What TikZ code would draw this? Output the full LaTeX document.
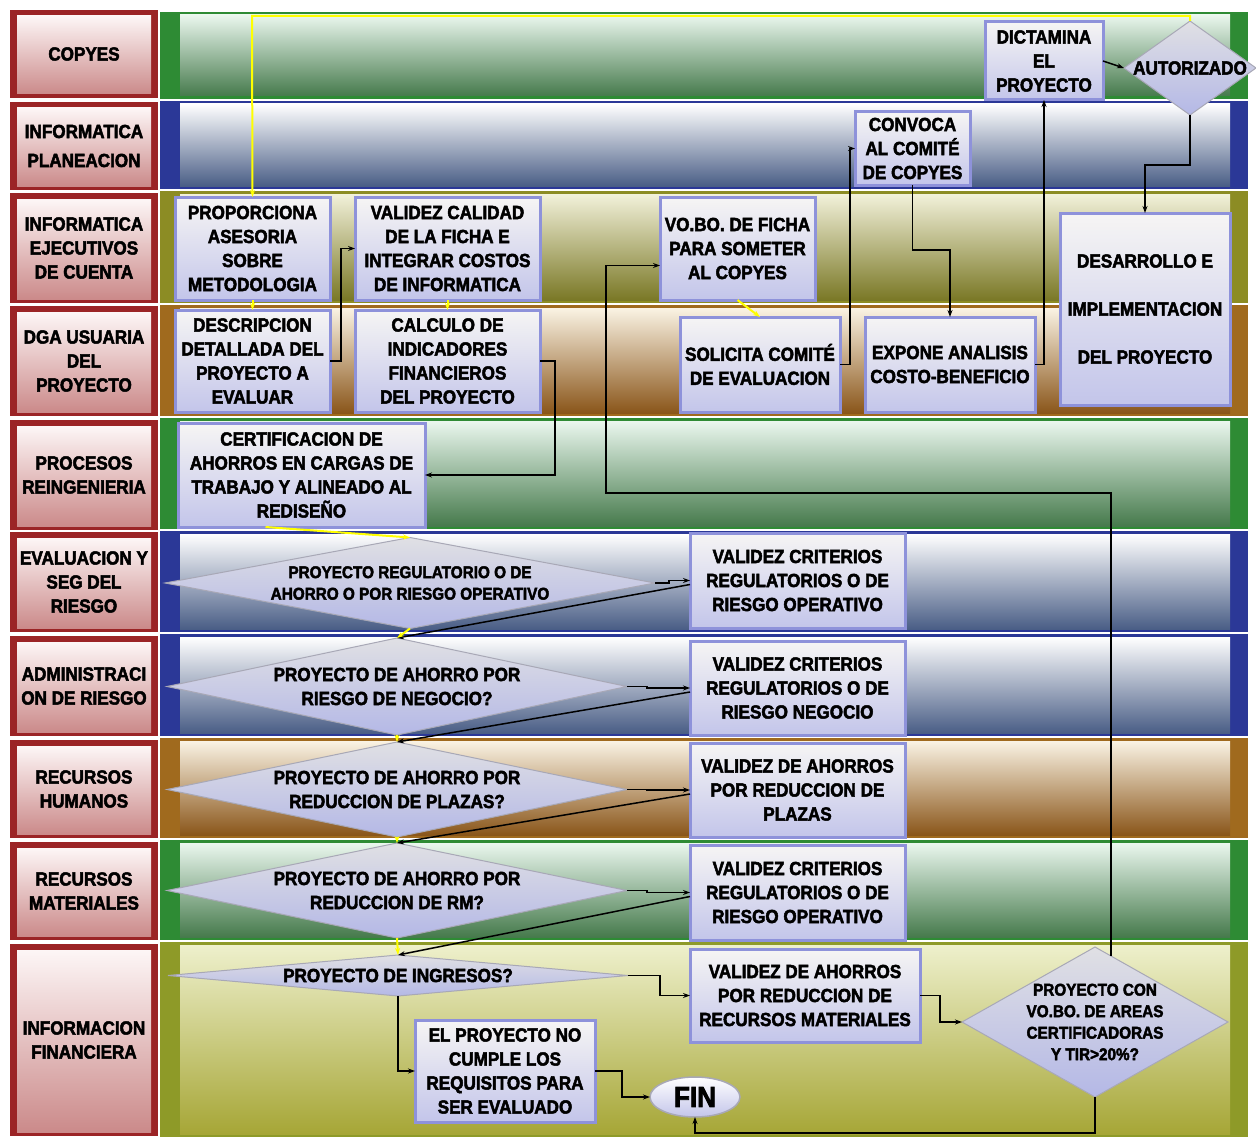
\documentclass[tikz,border=0pt]{standalone}
\usepackage{fontspec}
\setmainfont{Liberation Sans Bold}[FakeStretch=0.9, FakeBold=2.5]
\usetikzlibrary{shapes.geometric,arrows.meta,calc}

% lane palettes: rim, and top / middle / bottom of the body gradient
\definecolor{g-out}{HTML}{2E8B34}
\definecolor{g-top}{HTML}{EAF7EE}
\definecolor{g-mid}{HTML}{CFE0D1}
\definecolor{g-bot}{HTML}{467A4C}
\definecolor{b-out}{HTML}{2B3897}
\definecolor{b-top}{HTML}{FFFFFF}
\definecolor{b-mid}{HTML}{DEE1E8}
\definecolor{b-bot}{HTML}{4A5E86}
\definecolor{o-out}{HTML}{8C8C24}
\definecolor{o-top}{HTML}{F2F1DA}
\definecolor{o-mid}{HTML}{D2D0A6}
\definecolor{o-bot}{HTML}{7A7826}
\definecolor{r-out}{HTML}{A06A1E}
\definecolor{r-top}{HTML}{FAF3E4}
\definecolor{r-mid}{HTML}{E0CDAE}
\definecolor{r-bot}{HTML}{8A561A}
\definecolor{f-out}{HTML}{8E9A28}
\definecolor{f-top}{HTML}{EEF0CC}
\definecolor{f-mid}{HTML}{D0D290}
\definecolor{f-bot}{HTML}{A6A636}
% lane heading cells
\definecolor{lab-out}{HTML}{9B2426}
\definecolor{lab-top}{HTML}{FDF6F6}
\definecolor{lab-bot}{HTML}{CB8A8A}
% activity boxes and decisions
\definecolor{box-rim}{HTML}{8E92DA}
\definecolor{box-top}{HTML}{F6F5F4}
\definecolor{box-mid}{HTML}{ECEBEC}
\definecolor{box-bot}{HTML}{C3C5EA}
\definecolor{dia-rim}{HTML}{A8A8B6}
\definecolor{dia-top}{HTML}{E0E0E4}
\definecolor{dia-mid}{HTML}{F6F6F7}
\definecolor{dia-bot}{HTML}{B4B8E6}
\definecolor{flowyellow}{HTML}{FFFF00}

\begin{document}
\begin{tikzpicture}[x=1pt,y=-1pt,
  txt/.style={font=\fontsize{19}{24}\selectfont, text=black, align=center},
  smalltxt/.style={font=\fontsize{17}{21.5}\selectfont, text=black, align=center},
  lanelabel/.style={txt},
  proc/.style={txt, rectangle, draw=box-rim, line width=3pt, top color=box-top,
    middle color=box-mid, bottom color=box-bot, inner sep=0pt, outer sep=0pt},
  dec/.style={diamond, draw=dia-rim, line width=1pt, top color=dia-top,
    middle color=dia-mid, bottom color=dia-bot, inner sep=0pt, outer sep=0pt},
  term/.style={ellipse, draw=dia-rim, line width=1.5pt, top color=white,
    bottom color=box-bot, inner sep=0pt, outer sep=0pt},
  blk/.style={draw=black, line width=1.5pt, -{Stealth[length=7pt,width=5pt]}},
  yel/.style={draw=flowyellow, line width=2pt, -{Stealth[length=7pt,width=5pt]}},
]
\useasboundingbox (0,0) rectangle (1256,1137);
\fill[white] (0,0) rectangle (1256,1137);

% ---- lane bodies ----
\foreach \ya/\yb/\c in {12/99/g, 101/189/b, 191/303/o, 305/416/r, 418/529/g,
                        531/632/b, 634/736/b, 738/838/r, 840/940/g, 942/1137/f}{
  \fill[\c-out] (160,\ya) rectangle (1248,\yb);
  \shade[top color=\c-top, middle color=\c-mid, bottom color=\c-bot]
    (180,\ya+3) rectangle (1230,\yb-3);
}

% ---- lane headings ----
\foreach \ya/\yb/\txt in {10/98/{COPYES}, 102/190/{INFORMATICA\\[5pt]PLANEACION},
    193/303/{INFORMATICA\\EJECUTIVOS\\DE CUENTA}, 306/416/{DGA USUARIA\\DEL\\PROYECTO},
    420/530/{PROCESOS\\REINGENIERIA}, 532/632/{EVALUACION Y\\SEG DEL\\RIESGO},
    636/736/{ADMINISTRACI\\ON DE RIESGO}, 740/838/{RECURSOS\\HUMANOS},
    842/940/{RECURSOS\\MATERIALES}, 944/1136/{INFORMACION\\FINANCIERA}}{
  \fill[lab-out] (10,\ya) rectangle (158,\yb);
  \shade[top color=lab-top, bottom color=lab-bot] (17,\ya+6) rectangle (151,\yb-4);
  \node[lanelabel] (lab-\ya) at (84,{(\ya+\yb)/2}) {\txt};
}

% ---- activities ----
\node[proc, minimum width=155pt, minimum height=103pt] (prop) at (252.5,248.5)
  {PROPORCIONA\\ASESORIA\\SOBRE\\METODOLOGIA};
\node[proc, minimum width=185pt, minimum height=103pt] (valc) at (447.5,248.5)
  {VALIDEZ CALIDAD\\DE LA FICHA E\\INTEGRAR COSTOS\\DE INFORMATICA};
\node[proc, minimum width=155pt, minimum height=103pt] (vobo) at (737.5,248.5)
  {VO.BO. DE FICHA\\PARA SOMETER\\AL COPYES};
\node[proc, minimum width=155pt, minimum height=102pt] (desc) at (252.5,361)
  {DESCRIPCION\\DETALLADA DEL\\PROYECTO A\\EVALUAR};
\node[proc, minimum width=185pt, minimum height=102pt] (calc) at (447.5,361)
  {CALCULO DE\\INDICADORES\\FINANCIEROS\\DEL PROYECTO};
\node[proc, minimum width=160pt, minimum height=95pt] (sol) at (760,364.5)
  {SOLICITA COMITÉ\\DE EVALUACION};
\node[proc, minimum width=170pt, minimum height=95pt] (expo) at (950,364.5)
  {EXPONE ANALISIS\\COSTO-BENEFICIO};
\node[proc, minimum width=170pt, minimum height=192pt] (desa) at (1145,309)
  {DESARROLLO E\\[24pt]IMPLEMENTACION\\[24pt]DEL PROYECTO};
\node[proc, minimum width=115pt, minimum height=73pt] (conv) at (912.5,148.5)
  {CONVOCA\\AL COMITÉ\\DE COPYES};
\node[proc, minimum width=118pt, minimum height=78pt] (dict) at (1044,61)
  {DICTAMINA\\EL\\PROYECTO};
\node[dec, minimum width=132pt, minimum height=94pt] (aut) at (1190,68) {};
\node[txt] (autt) at (aut) {AUTORIZADO};
\node[proc, minimum width=247pt, minimum height=104pt] (cert) at (301.5,475)
  {CERTIFICACION DE\\AHORROS EN CARGAS DE\\TRABAJO Y ALINEADO AL\\REDISEÑO};

% ---- decision cascade ----
\node[dec, minimum width=490pt, minimum height=91pt] (d1) at (410,583) {};
\node[smalltxt] (d1t) at (d1) {PROYECTO REGULATORIO O DE\\AHORRO O POR RIESGO OPERATIVO};
\node[proc, minimum width=215pt, minimum height=95pt] (vc1) at (797.5,580.5)
  {VALIDEZ CRITERIOS\\REGULATORIOS O DE\\RIESGO OPERATIVO};

\node[dec, minimum width=460pt, minimum height=97pt] (d2) at (397,686.5) {};
\node[txt] (d2t) at (d2) {PROYECTO DE AHORRO POR\\RIESGO DE NEGOCIO?};
\node[proc, minimum width=215pt, minimum height=94pt] (vc2) at (797.5,688)
  {VALIDEZ CRITERIOS\\REGULATORIOS O DE\\RIESGO NEGOCIO};

\node[dec, minimum width=460pt, minimum height=95pt] (d3) at (397,789.5) {};
\node[txt] (d3t) at (d3) {PROYECTO DE AHORRO POR\\REDUCCION DE PLAZAS?};
\node[proc, minimum width=215pt, minimum height=94pt] (vap) at (797.5,790)
  {VALIDEZ DE AHORROS\\POR REDUCCION DE\\PLAZAS};

\node[dec, minimum width=460pt, minimum height=95pt] (d4) at (397,890.5) {};
\node[txt] (d4t) at (d4) {PROYECTO DE AHORRO POR\\REDUCCION DE RM?};
\node[proc, minimum width=215pt, minimum height=95pt] (vc3) at (797.5,892.5)
  {VALIDEZ CRITERIOS\\REGULATORIOS O DE\\RIESGO OPERATIVO};

\node[dec, minimum width=460pt, minimum height=41pt] (d5) at (398,975.5) {};
\node[txt] (d5t) at (d5) {PROYECTO DE INGRESOS?};
\node[proc, minimum width=230pt, minimum height=93pt] (vrm) at (805,995.5)
  {VALIDEZ DE AHORROS\\POR REDUCCION DE\\RECURSOS MATERIALES};
\node[proc, minimum width=180pt, minimum height=102pt] (noc) at (505,1071)
  {EL PROYECTO NO\\CUMPLE LOS\\REQUISITOS PARA\\SER EVALUADO};
\node[term, minimum width=90pt, minimum height=40pt] (fin) at (695,1097) {};
\node[font=\fontsize{29}{30}\selectfont] (fint) at (fin) {FIN};
\node[dec, minimum width=266pt, minimum height=150pt] (bigd) at (1095,1022) {};
\node[smalltxt] (bigdt) at (bigd) {PROYECTO CON\\VO.BO. DE AREAS\\CERTIFICADORAS\\Y TIR>20\%?};

% ---- connectors ----
\coordinate (loopTop) at (252,16);
\draw[yel] (aut.north) |- (loopTop) -- (prop.north);
\draw[yel] (prop.south) -- (desc.north);
\draw[blk] (desc.east) -- ++(11,0) |- (valc.west);
\draw[yel] (valc.south) -- (calc.north);
\draw[blk] (calc.east) -- ++(15,0) |- (cert.east);
\draw[yel] ([xshift=-36pt]cert.south) -- (d1.north);

\draw[blk] (d1.east) -- ++(14,0) |- (vc1.west);
\draw[blk] ([yshift=-4pt]vc1.west) -- (d2.north);
\draw[yel] (d1.south) -- (d2.north);
\draw[blk] (d2.east) -- ++(20,0) |- (vc2.west);
\draw[blk] ([yshift=-4pt]vc2.west) -- (d3.north);
\draw[yel] (d2.south) -- (d3.north);
\draw[blk] (d3.east) -- ++(20,0) |- (vap.west);
\draw[blk] ([yshift=-4pt]vap.west) -- (d4.north);
\draw[yel] (d3.south) -- (d4.north);
\draw[blk] (d4.east) -- ++(20,0) |- (vc3.west);
\draw[blk] ([yshift=-4pt]vc3.west) -- (d5.north);
\draw[yel] (d4.south) -- (d5.north);

\draw[blk] (d5.east) -- ++(32,0) |- (vrm.west);
\draw[blk] (d5.south) |- (noc.west);
\draw[blk] (noc.east) -- ++(27,0) |- (fin.west);
\draw[blk] (vrm.east) -- ++(20,0) |- (bigd.west);
\draw[blk] (bigd.south) -- ++(0,36) -| (fin.south);

\coordinate (bigdOut) at ($(bigd.north)!0.12!(bigd.east)$);
\coordinate (backTurn) at (606,493);
\draw[blk] (bigdOut) |- (backTurn) |- ([yshift=-17pt]vobo.west);

\draw[yel] (vobo.south) -- (sol.north);
\draw[blk] (sol.east) -- ++(10,0) |- (conv.west);
\draw[blk] (conv.south) -- ++(0,65) -| (expo.north);
\draw[blk] (expo.east) -| (dict.south);
\draw[blk] (dict.east) -- (aut.west);
\draw[blk] (aut.south) -- ++(0,50) -| (desa.north);
\end{tikzpicture}
\end{document}
